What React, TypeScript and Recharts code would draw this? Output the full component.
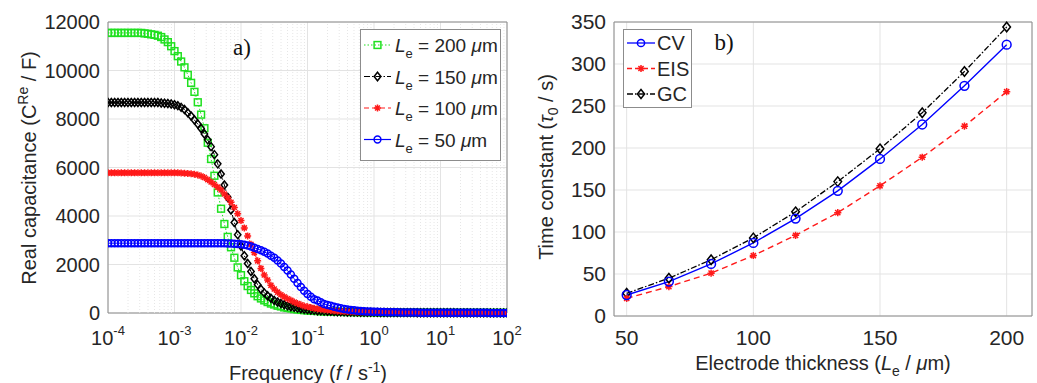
import { LineChart, Line, XAxis, YAxis, CartesianGrid, ReferenceLine, ReferenceArea } from 'recharts'

const FONT = '"Liberation Sans", Arial, Helvetica, sans-serif'
const SERIF = '"Liberation Serif", "Times New Roman", serif'
const INK = '#262626'
const GRID = '#e3e3e3'
const FRAME = '#8c8c8c'

const GREEN = '#1fe01f'
const BLACK = '#000000'
const RED = '#ff1a1a'
const BLUE = '#0000ff'

// ---- panel a): real capacitance vs frequency, 20 points per decade ----
const mantissas = [1, 1.122, 1.259, 1.413, 1.585, 1.778, 1.995, 2.239, 2.512, 2.818, 3.162, 3.548, 3.981, 4.467, 5.012, 5.623, 6.31, 7.079, 7.943, 8.913]
const decades = [-4, -3, -2, -1, 0, 1]
const decadeTicks = [1e-4, 1e-3, 1e-2, 1e-1, 1, 10, 100]
const decadeExps = ['-4', '-3', '-2', '-1', '0', '1', '2']
const minorFactors = [2, 3, 4, 5, 6, 7, 8, 9]
const capTicks = [0, 2000, 4000, 6000, 8000, 10000, 12000]

const cap200 = [
  11550, 11550, 11550, 11550, 11550, 11550, 11550, 11550, 11550, 11550, 11550, 11530, 11515, 11490, 11470, 11435, 11380, 11280, 11170, 11000,
  10800, 10590, 10370, 10130, 9820, 9490, 9120, 8690, 8180, 7620, 7020, 6350, 5660, 4970, 4300, 3670, 3140, 2710, 2280, 1880,
  1560, 1310, 1110, 950, 810, 690, 600, 520, 450, 390, 350, 300, 270, 230, 210, 185, 160, 144, 127, 116,
  104, 92, 87, 81, 69, 66, 61, 58, 52, 50, 46, 43, 40, 38, 36, 35, 32, 31, 29, 28,
  27, 24, 23, 22, 21, 20, 18, 18, 17, 16, 15, 15, 14, 14, 13, 13, 12, 12, 12, 10,
  10, 9, 9, 8, 8, 8, 7, 7, 7, 7, 6, 6, 6, 6, 6, 5, 5, 5, 5, 5, 5,
]
const cap150 = [
  8680, 8680, 8680, 8680, 8680, 8680, 8680, 8680, 8680, 8680, 8680, 8680, 8680, 8680, 8680, 8680, 8660, 8650, 8640, 8620,
  8590, 8550, 8480, 8390, 8260, 8120, 7960, 7790, 7610, 7380, 7140, 6860, 6530, 6150, 5730, 5280, 4770, 4250, 3730, 3230,
  2760, 2360, 2040, 1710, 1410, 1170, 980, 830, 710, 610, 520, 450, 390, 340, 295, 260, 230, 200, 174, 156,
  139, 122, 109, 95, 87, 78, 69, 65, 61, 52, 49, 46, 43, 39, 37, 35, 32, 30, 29, 27,
  26, 24, 23, 22, 21, 20, 18, 17, 16, 16, 15, 14, 14, 13, 12, 11, 11, 10, 10, 10,
  9, 9, 8, 8, 8, 7, 7, 7, 7, 6, 6, 6, 6, 5, 5, 5, 5, 5, 4, 4, 4,
]
const cap100 = [
  5780, 5780, 5780, 5780, 5780, 5780, 5780, 5780, 5780, 5780, 5780, 5780, 5780, 5780, 5780, 5780, 5780, 5780, 5780, 5780,
  5780, 5780, 5770, 5760, 5750, 5740, 5720, 5690, 5650, 5590, 5500, 5400, 5300, 5190, 5070, 4910, 4750, 4570, 4350, 4090,
  3810, 3510, 3180, 2830, 2490, 2150, 1840, 1570, 1360, 1140, 990, 860, 750, 665, 590, 525, 450, 390, 340, 290,
  255, 225, 195, 170, 150, 135, 120, 105, 94, 83, 75, 68, 60, 56, 53, 45, 43, 40, 38, 34,
  33, 30, 28, 27, 25, 24, 23, 21, 20, 19, 18, 17, 16, 15, 14, 14, 13, 12, 12, 11,
  11, 10, 10, 9, 9, 9, 8, 8, 8, 8, 7, 7, 7, 7, 6, 6, 6, 6, 6, 5, 5,
]
const cap50 = [
  2880, 2880, 2880, 2880, 2880, 2880, 2880, 2880, 2880, 2880, 2880, 2880, 2880, 2880, 2880, 2880, 2880, 2880, 2880, 2880,
  2880, 2880, 2880, 2880, 2880, 2880, 2880, 2880, 2880, 2880, 2880, 2880, 2880, 2880, 2880, 2875, 2870, 2865, 2860, 2850,
  2835, 2815, 2785, 2740, 2695, 2640, 2585, 2525, 2450, 2365, 2275, 2165, 2040, 1900, 1750, 1585, 1410, 1240, 1070, 915,
  785, 675, 570, 515, 445, 375, 330, 295, 260, 225, 195, 170, 145, 125, 110, 97, 86, 75, 67, 60,
  52, 47, 41, 37, 34, 30, 28, 26, 22, 21, 20, 19, 17, 16, 15, 14, 13, 12, 12, 11,
  11, 10, 10, 9, 9, 8, 8, 8, 7, 7, 7, 6, 6, 6, 6, 5, 5, 5, 5, 4, 4,
]

const freqs = [...decades.flatMap((d) => mantissas.map((m) => m * 10 ** d)), 100]
const minorLines = decades.flatMap((d) => minorFactors.map((m) => m * 10 ** d))
const capRows = freqs.map((f, i) => ({ f, c200: cap200[i], c150: cap150[i], c100: cap100[i], c50: cap50[i] }))

// ---- panel b): time constant vs electrode thickness ----
const thickness = [50, 66.67, 83.33, 100, 116.67, 133.33, 150, 166.67, 183.33, 200]
const tauCV = [25, 41, 62, 87, 116, 149, 187, 228, 274, 323]
const tauEIS = [21, 35, 51, 72, 96, 123, 155, 189, 226, 267]
const tauGC = [27, 45, 67, 93, 124, 160, 199, 242, 291, 344]
const thickTicks = [50, 100, 150, 200]
const tauTicks = [0, 50, 100, 150, 200, 250, 300, 350]

const tauRows = thickness.map((L, i) => ({ L, cv: tauCV[i], eis: tauEIS[i], gc: tauGC[i] }))

type Kind = 'square' | 'diamond' | 'star' | 'circle'

function Marker({ kind, x, y, color, s, w = 1.5 }: { kind: Kind; x: number; y: number; color: string; s: number; w?: number }) {
  if (kind === 'square')
    return <rect x={x - s} y={y - s} width={2 * s} height={2 * s} fill="none" stroke={color} strokeWidth={w} />
  if (kind === 'diamond')
    return (
      <path
        d={`M${x},${y - s * 1.25}L${x + s},${y}L${x},${y + s * 1.25}L${x - s},${y}Z`}
        fill="none"
        stroke={color}
        strokeWidth={w}
      />
    )
  if (kind === 'star') {
    const d = s * 0.72
    return (
      <path
        d={`M${x - s},${y}H${x + s}M${x},${y - s}V${y + s}M${x - d},${y - d}L${x + d},${y + d}M${x - d},${y + d}L${x + d},${y - d}`}
        stroke={color}
        strokeWidth={w}
      />
    )
  }
  return <circle cx={x} cy={y} r={s} fill="none" stroke={color} strokeWidth={w} />
}

const dotOf = (kind: Kind, color: string, s: number) => (p: any) => {
  if (p.cx == null || p.cy == null || isNaN(p.cy)) return <g key={`${kind}-${p.index}`} />
  return (
    <g key={`${kind}-${p.index}`}>
      <Marker kind={kind} x={p.cx} y={p.cy} color={color} s={s} />
    </g>
  )
}

function PowTick({ x, y, index }: any) {
  return (
    <text x={x} y={y + 24} textAnchor="middle" fontSize={20} fontFamily={FONT} fill={INK}>
      10
      <tspan dy={-10} fontSize={13}>
        {decadeExps[index]}
      </tspan>
    </text>
  )
}

const legendA = [
  { value: '200', kind: 'square' as Kind, color: GREEN, dash: '1.5 2' },
  { value: '150', kind: 'diamond' as Kind, color: BLACK, dash: '6 2 1.5 2' },
  { value: '100', kind: 'star' as Kind, color: RED, dash: '5 3' },
  { value: '50', kind: 'circle' as Kind, color: BLUE, dash: undefined },
]
const legendB = [
  { name: 'CV', kind: 'circle' as Kind, color: BLUE, dash: undefined },
  { name: 'EIS', kind: 'star' as Kind, color: RED, dash: '5 3' },
  { name: 'GC', kind: 'diamond' as Kind, color: BLACK, dash: '6 2 1.5 2' },
]

function Overlay() {
  return (
    <svg width={1037} height={383} style={{ position: 'absolute', left: 0, top: 0, pointerEvents: 'none' }}>
      <g fontFamily={FONT} fill={INK} fontSize={20}>
        {/* axis titles */}
        <text transform="translate(36,168) rotate(-90)" textAnchor="middle">
          Real capacitance (C<tspan dy={-8} fontSize={14}>Re</tspan>
          <tspan dy={8}> / F)</tspan>
        </text>
        <text x={308} y={380} textAnchor="middle">
          Frequency (<tspan fontStyle="italic">f</tspan> / s<tspan dy={-8} fontSize={14}>-1</tspan>
          <tspan dy={8}>)</tspan>
        </text>
        <text transform="translate(553,167) rotate(-90)" textAnchor="middle">
          Time constant (<tspan fontStyle="italic">τ</tspan>
          <tspan dy={5} fontSize={14}>0</tspan>
          <tspan dy={-5}> / s)</tspan>
        </text>
        <text x={823} y={370} textAnchor="middle">
          Electrode thickness (<tspan fontStyle="italic">L</tspan>
          <tspan dy={6} fontSize={14}>e</tspan>
          <tspan dy={-6}> / </tspan>
          <tspan fontStyle="italic">μ</tspan>m)
        </text>
      </g>
      <g fontFamily={SERIF} fill="#111" fontSize={23}>
        <text x={242} y={55} textAnchor="middle">a)</text>
        <text x={724} y={50} textAnchor="middle">b)</text>
      </g>
      {/* legend a */}
      <rect x={360.5} y={29.5} width={140} height={131} fill="#fff" stroke={FRAME} />
      {legendA.map((e, i) => {
        const cy = 45 + i * 31.5
        return (
          <g key={e.value}>
            <line x1={364} x2={391} y1={cy} y2={cy} stroke={e.color} strokeDasharray={e.dash} strokeWidth={1.2} />
            <Marker kind={e.kind} x={377.5} y={cy} color={e.color} s={3.4} />
            <text x={395} y={cy + 7} fontFamily={FONT} fontSize={19} fill={INK}>
              <tspan fontStyle="italic">L</tspan>
              <tspan dy={6} fontSize={13}>e</tspan>
              <tspan dy={-6}> = {e.value} </tspan>
              <tspan fontStyle="italic">μ</tspan>m
            </text>
          </g>
        )
      })}
      {/* legend b */}
      <rect x={623.5} y={29.5} width={68} height={78} fill="#fff" stroke={FRAME} />
      {legendB.map((e, i) => {
        const cy = 43 + i * 25.5
        return (
          <g key={e.name}>
            <line x1={627} x2={655} y1={cy} y2={cy} stroke={e.color} strokeDasharray={e.dash} strokeWidth={1.3} />
            <Marker kind={e.kind} x={641} y={cy} color={e.color} s={3.6} />
            <text x={657} y={cy + 7} fontFamily={FONT} fontSize={20} fill={INK}>
              {e.name}
            </text>
          </g>
        )
      })}
    </svg>
  )
}

export default function App() {
  return (
    <div style={{ position: 'absolute', left: 0, top: 0, width: 1037, height: 383, background: '#fff' }}>
      <div style={{ position: 'absolute', left: 0, top: 0 }}>
        <LineChart width={536} height={383} data={capRows} margin={{ top: 22, right: 29, left: 0, bottom: 0 }}>
          <CartesianGrid stroke={GRID} />
          {minorLines.map((v) => (
            <ReferenceLine key={v} x={v} stroke="#e6e6e6" strokeDasharray="1 2" />
          ))}
          <XAxis
            dataKey="f"
            type="number"
            scale="log"
            domain={[1e-4, 100]}
            ticks={decadeTicks}
            interval={0}
            allowDataOverflow
            tick={<PowTick />}
            tickLine={false}
            axisLine={false}
            height={70}
          />
          <YAxis
            type="number"
            domain={[0, 12000]}
            ticks={capTicks}
            interval={0}
            tick={{ fontSize: 20, fill: INK, fontFamily: FONT }}
            tickLine={false}
            axisLine={false}
            width={108}
          />
          <ReferenceArea x1={1e-4} x2={100} y1={0} y2={12000} fill="none" stroke={FRAME} strokeWidth={1} />
          <Line dataKey="c200" stroke={GREEN} strokeWidth={1} strokeDasharray="1.5 2" dot={dotOf('square', GREEN, 3.4)} activeDot={false} isAnimationActive={false} />
          <Line dataKey="c150" stroke={BLACK} strokeWidth={1} strokeDasharray="6 2 1.5 2" dot={dotOf('diamond', BLACK, 3.2)} activeDot={false} isAnimationActive={false} />
          <Line dataKey="c100" stroke={RED} strokeWidth={1} strokeDasharray="5 3" dot={dotOf('star', RED, 3.5)} activeDot={false} isAnimationActive={false} />
          <Line dataKey="c50" stroke={BLUE} strokeWidth={1} dot={dotOf('circle', BLUE, 3.5)} activeDot={false} isAnimationActive={false} />
        </LineChart>
      </div>
      <div style={{ position: 'absolute', left: 520, top: 0 }}>
        <LineChart width={517} height={383} data={tauRows} margin={{ top: 22, right: 5, left: 0, bottom: 0 }}>
          <CartesianGrid stroke={GRID} />
          <XAxis
            dataKey="L"
            type="number"
            domain={[45, 210]}
            ticks={thickTicks}
            interval={0}
            tick={{ fontSize: 21, fill: INK, fontFamily: FONT }}
            tickLine={false}
            axisLine={false}
            tickMargin={8}
            height={67}
          />
          <YAxis
            type="number"
            domain={[0, 350]}
            ticks={tauTicks}
            interval={0}
            tick={{ fontSize: 21, fill: INK, fontFamily: FONT }}
            tickLine={false}
            axisLine={false}
            width={94}
          />
          <ReferenceArea x1={45} x2={210} y1={0} y2={350} fill="none" stroke={FRAME} strokeWidth={1} />
          <Line dataKey="gc" stroke={BLACK} strokeWidth={1.3} strokeDasharray="6 2 1.5 2" dot={dotOf('diamond', BLACK, 3.8)} activeDot={false} isAnimationActive={false} />
          <Line dataKey="eis" stroke={RED} strokeWidth={1.4} strokeDasharray="6 4" dot={dotOf('star', RED, 3.6)} activeDot={false} isAnimationActive={false} />
          <Line dataKey="cv" stroke={BLUE} strokeWidth={1.4} dot={dotOf('circle', BLUE, 4.4)} activeDot={false} isAnimationActive={false} />
        </LineChart>
      </div>
      <Overlay />
    </div>
  )
}
